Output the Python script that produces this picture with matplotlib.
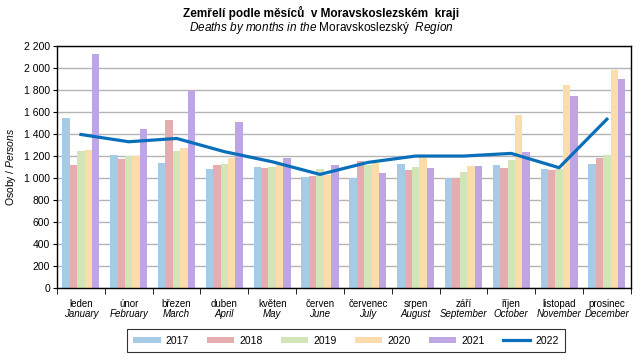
import matplotlib
matplotlib.use("Agg")
import matplotlib.pyplot as plt
import numpy as np
from matplotlib.ticker import FuncFormatter, FixedLocator

plt.rcParams['font.family'] = ['Liberation Sans', 'DejaVu Sans']
plt.rcParams['mathtext.fontset'] = 'custom'
plt.rcParams['mathtext.rm'] = 'Liberation Sans'
plt.rcParams['mathtext.it'] = 'Liberation Sans:italic'

mesice_cz = ["leden", "únor", "březen", "duben", "květen", "červen",
             "červenec", "srpen", "září", "říjen", "listopad", "prosinec"]
mesice_en = ["January", "February", "March", "April", "May", "June",
             "July", "August", "September", "October", "November", "December"]

roky = ["2017", "2018", "2019", "2020", "2021"]
d2017 = [1547, 1209, 1136, 1082, 1100, 1009, 997, 1124, 997, 1118, 1082, 1127]
d2018 = [1118, 1172, 1526, 1118, 1094, 1018, 1154, 1073, 997, 1091, 1073, 1182]
d2019 = [1245, 1200, 1245, 1127, 1100, 1082, 1118, 1100, 1055, 1163, 1082, 1209]
d2020 = [1254, 1200, 1275, 1185, 1118, 1030, 1133, 1194, 1109, 1571, 1843, 1979]
d2021 = [2125, 1445, 1792, 1508, 1185, 1118, 1046, 1091, 1109, 1236, 1744, 1898]
d2022 = [1396, 1330, 1360, 1240, 1148, 1033, 1142, 1200, 1200, 1224, 1094, 1535]

barvy = ["#a6cbe6", "#e6adb0", "#d3e5b6", "#fcdcab", "#bda6e3"]
barva_2022 = "#0a6fba"

fig = plt.figure(figsize=(6.43, 3.6), dpi=100)
ax = fig.add_axes([0.0887, 0.2, 0.8923, 0.672])

x = np.arange(12)
sirka = 0.155
data = [d2017, d2018, d2019, d2020, d2021]
handles = []
for i, (rok, hodnoty) in enumerate(zip(roky, data)):
    b = ax.bar(x + (i - 2) * sirka, hodnoty, width=sirka, color=barvy[i], label=rok, zorder=2)
    handles.append(b)
line, = ax.plot(x, d2022, color=barva_2022, lw=2.3, label="2022", zorder=3)
handles.append(line)

ax.set_xlim(-0.5, 11.5)
ax.set_ylim(0, 2200)
ax.set_yticks(np.arange(0, 2201, 200))
ax.yaxis.set_major_formatter(FuncFormatter(lambda v, p: f"{int(v):,}".replace(",", " ")))
ax.grid(axis='y', color='#b4b4b4', lw=1, zorder=0)
ax.set_axisbelow(True)
ax.tick_params(axis='y', labelsize=7.5, length=3, pad=2)

ax.set_xticks([])
ax.xaxis.set_minor_locator(FixedLocator(np.arange(-0.5, 12, 1)))
ax.tick_params(axis='x', which='minor', length=4, direction='out')
for i in range(12):
    ax.text(x[i], -0.045, mesice_cz[i], transform=ax.get_xaxis_transform(),
            ha='center', va='top', fontsize=7)
    ax.text(x[i], -0.088, mesice_en[i], transform=ax.get_xaxis_transform(),
            ha='center', va='top', fontsize=7, style='italic')

for s in ax.spines.values():
    s.set_color('black')
    s.set_linewidth(1)

ax.set_ylabel(r"Osoby / $\it{Persons}$", fontsize=7.5, labelpad=4)

fig.text(0.5, 0.963, "Zemřelí podle měsíců  v Moravskoslezském  kraji",
         ha='center', va='center', fontsize=8.5, fontweight='bold')
fig.text(0.5, 0.922, r"$\it{Deaths\ by\ months\ in\ the}$ Moravskoslezský  $\it{Region}$",
         ha='center', va='center', fontsize=8.5)

leg = fig.legend(handles=handles, labels=roky + ["2022"], loc='center',
                 bbox_to_anchor=(0.538, 0.054), ncol=6, fontsize=7.5,
                 frameon=True, fancybox=False, edgecolor='black', handlelength=2.6,
                 handleheight=0.6, handletextpad=0.5, columnspacing=1.75, borderpad=0.65,
                 borderaxespad=0)
leg.get_frame().set_linewidth(0.8)

fig.savefig("out.png", dpi=100)
